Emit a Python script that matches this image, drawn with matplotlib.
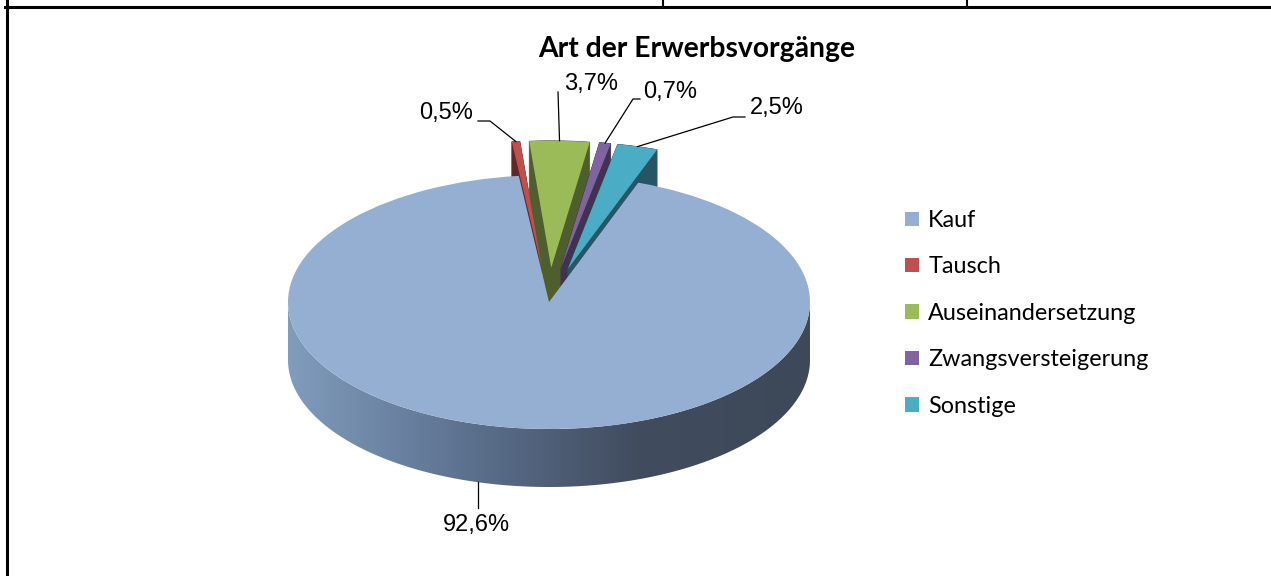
import numpy as np
import matplotlib
matplotlib.use("Agg")
import matplotlib.pyplot as plt
from matplotlib.patches import Polygon
from matplotlib.lines import Line2D
from matplotlib.colors import LinearSegmentedColormap, to_rgb

# data
categories = ["Kauf", "Tausch", "Auseinandersetzung", "Zwangsversteigerung", "Sonstige"]
shares = [92.6, 0.5, 3.7, 0.7, 2.5]
pct_labels = ["92,6%", "0,5%", "3,7%", "0,7%", "2,5%"]
colors = ["#94afd1", "#c0504d", "#9bbb59", "#8064a2", "#4bacc6"]
explode = [0, 0.27, 0.27, 0.27, 0.27]

W, H = 1271, 576
cx, cy, rx, ry = 549, 302, 261, 127   # pie centre / ellipse radii in pixels
depth = 58 / ry                         # thickness in pie units

fig = plt.figure(figsize=(W / 100, H / 100), dpi=100)
ax = fig.add_axes([0, 0, 1, 1])

wedges, _ = ax.pie(shares, colors=colors, startangle=70, counterclock=False,
                   explode=explode, radius=1, center=(0, 0),
                   wedgeprops=dict(linewidth=0))
ax.set_aspect("auto")
ax.axis("off")


def px(x, y):
    # pixel (top-left origin) -> pie units
    return (x - cx) / rx, (cy - y) / ry


def wedge_poly(w, n=40):
    t = np.radians(np.linspace(w.theta1, w.theta2, n))
    xs = np.r_[w.center[0], w.center[0] + w.r * np.cos(t)]
    ys = np.r_[w.center[1], w.center[1] + w.r * np.sin(t)]
    return np.c_[xs, ys]


def hull(pts):
    pts = sorted(map(tuple, pts))
    def cross(o, a, b):
        return (a[0] - o[0]) * (b[1] - o[1]) - (a[1] - o[1]) * (b[0] - o[0])
    lo, up = [], []
    for p in pts:
        while len(lo) >= 2 and cross(lo[-2], lo[-1], p) <= 0:
            lo.pop()
        lo.append(p)
    for p in reversed(pts):
        while len(up) >= 2 and cross(up[-2], up[-1], p) <= 0:
            up.pop()
        up.append(p)
    return np.array(lo[:-1] + up[:-1])


def shade(c, f):
    return tuple(np.array(to_rgb(c)) * f)


# small exploded slices at the back: dark body then light top face
for i, w in enumerate(wedges):
    if i == 0:
        w.set_zorder(5)
        continue
    p = wedge_poly(w)
    body = hull(np.r_[p, p - [0, depth]])
    ax.add_patch(Polygon(body, closed=True, fc=shade(colors[i], 0.5),
                         ec=shade(colors[i], 0.5), lw=0.5, zorder=1))
    w.set_zorder(2)

# front side of the big slice with horizontal shading
t = np.radians(np.linspace(180, 360, 200))
top = np.c_[np.cos(t), np.sin(t)]
side = np.r_[top, (top - [0, depth])[::-1]]
side_patch = Polygon(side, closed=True, fc="none", ec="none")
ax.add_patch(side_patch)
cmap = LinearSegmentedColormap.from_list("side", ["#819cbd", "#5d7290", "#414c5f", "#3d4858"])
grad = np.linspace(0, 1, 256)[None, :]
im = ax.imshow(grad, cmap=cmap, extent=(-1, 1, -1 - depth, 0), aspect="auto",
               zorder=4, interpolation="bilinear")
im.set_clip_path(side_patch)
ax.set_xlim(-cx / rx, (W - cx) / rx)
ax.set_ylim(-(H - cy) / ry, cy / ry)

# labels with leader lines
lab_font = dict(family="Liberation Sans", fontsize=17, color="black")
lead = dict(color="black", lw=0.9, zorder=6)

# 92,6 %
x0, _ = px(478, 0)
y0 = -np.sqrt(1 - x0 ** 2) - depth
x1, y1 = px(478, 508)
ax.plot([x0, x1], [y0, y1], **lead)
ax.text(*px(476, 525), pct_labels[0], ha="center", va="center", **lab_font)

label_pos = {1: ((473, 113), "right", [(490, 121), (478, 121)]),
             2: ((591, 84), "center", [(558, 92)]),
             3: ((670, 92), "center", [(633, 99), (640, 99)]),
             4: ((777, 108), "center", [(733, 117), (745, 117)])}
for i, (tp, ha, pts) in label_pos.items():
    w = wedges[i]
    m = np.radians((w.theta1 + w.theta2) / 2)
    ax_pt = (w.center[0] + w.r * np.cos(m), w.center[1] + w.r * np.sin(m))
    line = [ax_pt] + [px(*q) for q in pts]
    ax.plot([q[0] for q in line], [q[1] for q in line], **lead)
    ax.text(*px(*tp), pct_labels[i], ha=ha, va="center", **lab_font)

# title
fig.text(697 / W, 1 - 49 / H, "Art der Erwerbsvorgänge", ha="center", va="center",
         family="Lato", fontweight="bold", fontsize=20.3)

# legend
fig.legend(wedges, categories, loc="upper left",
           bbox_to_anchor=(905 / W, 1 - 210 / H), frameon=False,
           prop=dict(family="Lato", size=16.8), handlelength=0.58, handleheight=0.58,
           handletextpad=0.42, labelspacing=1.09, borderpad=0, borderaxespad=0)

# table borders around the chart cell
for xs, ys, lw in [((6.5, 6.5), (0, H), 2.2), ((5, W), (6.5, 6.5), 2.2),
                   ((663, 663), (0, 6), 1.5), ((967, 967), (0, 6), 1.5)]:
    fig.add_artist(Line2D([x / W for x in xs], [1 - y / H for y in ys],
                          color="black", lw=lw, transform=fig.transFigure))

fig.savefig("out.png", dpi=100)
